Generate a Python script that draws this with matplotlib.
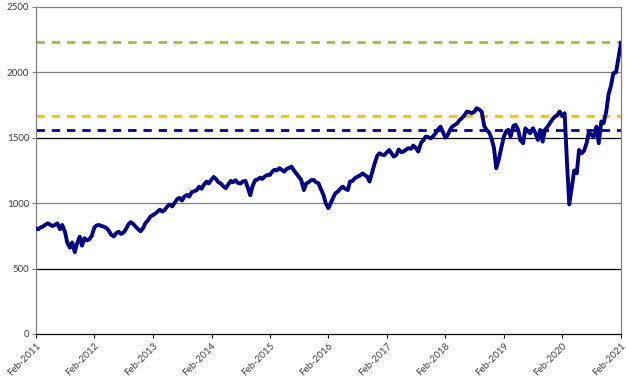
import matplotlib
matplotlib.use("Agg")
import matplotlib.pyplot as plt
import pandas as pd

# semi-monthly readings, Feb-2011 .. Feb-2021
values_2011 = [808, 800, 815, 820, 835, 846, 835, 825, 835, 846, 800, 833,
               780, 700, 660, 700, 625, 690, 744, 675, 732, 715, 725, 750]
values_2012 = [815, 830, 833, 825, 820, 810, 790, 760, 745, 770, 782, 765,
               775, 800, 840, 855, 840, 820, 800, 785, 810, 846, 870, 897]
values_2013 = [910, 920, 935, 950, 935, 950, 975, 990, 975, 1000, 1030, 1040,
               1020, 1050, 1063, 1050, 1085, 1090, 1100, 1126, 1110, 1140, 1165, 1150]
values_2014 = [1180, 1200, 1185, 1160, 1150, 1130, 1115, 1140, 1170, 1160, 1175, 1155,
               1150, 1165, 1170, 1120, 1060, 1130, 1175, 1180, 1195, 1185, 1205, 1215]
values_2015 = [1216, 1240, 1255, 1250, 1267, 1255, 1241, 1260, 1270, 1279, 1250, 1228,
               1200, 1177, 1100, 1150, 1160, 1175, 1177, 1160, 1152, 1110, 1063, 1000]
values_2016 = [961, 1000, 1040, 1075, 1090, 1110, 1126, 1110, 1100, 1165, 1170, 1190,
               1203, 1210, 1228, 1215, 1203, 1165, 1240, 1300, 1360, 1381, 1370, 1368]
values_2017 = [1390, 1406, 1380, 1356, 1370, 1410, 1390, 1394, 1410, 1420, 1415, 1440,
               1420, 1394, 1460, 1480, 1509, 1505, 1496, 1510, 1534, 1560, 1585, 1547]
values_2018 = [1500, 1520, 1560, 1585, 1598, 1610, 1636, 1650, 1674, 1700, 1695, 1687,
               1700, 1725, 1715, 1700, 1590, 1560, 1540, 1496, 1420, 1267, 1340, 1420]
values_2019 = [1509, 1550, 1560, 1509, 1590, 1598, 1560, 1480, 1458, 1572, 1550, 1534,
               1572, 1540, 1483, 1560, 1470, 1560, 1585, 1611, 1640, 1660, 1674, 1700]
values_2020 = [1665, 1687, 1305, 990, 1130, 1250, 1228, 1406, 1381, 1400, 1458, 1540,
               1520, 1509, 1585, 1458, 1624, 1611, 1700, 1830, 1900, 1993, 2000, 2100, 2225]

series = (values_2011 + values_2012 + values_2013 + values_2014 + values_2015
          + values_2016 + values_2017 + values_2018 + values_2019 + values_2020)
dates = pd.date_range("2011-02-01", periods=len(series), freq="SMS")

# reference levels (dashed)
level_green = 2230
level_yellow = 1668
level_navy = 1562

tick_years = list(range(2011, 2022))
tick_labels = [f"Feb-{y}" for y in tick_years]

NAVY = "#000080"

fig = plt.figure(figsize=(6.26, 3.83), dpi=100)
ax = fig.add_axes([0.0575, 0.128, 0.9345, 0.854])

start, end = pd.Timestamp("2011-02-01"), pd.Timestamp("2021-02-01")

for lvl, col in [(500, "black"), (1000, "#808080"), (1500, "black"), (2000, "#808080")]:
    ax.axhline(lvl, color=col, lw=0.9, zorder=1)

ax.plot([start, end], [level_green] * 2, color="#9BBB59", lw=2.0, dashes=(3, 2.5), zorder=2)
ax.plot([start, end], [level_yellow] * 2, color="#F5C400", lw=2.0, dashes=(3, 2.5), zorder=2)
ax.plot([start, end], [level_navy] * 2, color=NAVY, lw=2.0, dashes=(3, 2.5), zorder=2)

ax.plot(dates, series, color=NAVY, lw=2.8, solid_joinstyle="round", zorder=3)

ax.set_xlim(start, end)
ax.set_ylim(0, 2500)
ax.set_yticks(range(0, 2501, 500))
ax.set_xticks([pd.Timestamp(f"{y}-02-01") for y in tick_years])
ax.set_xticklabels(tick_labels, rotation=45, ha="right", rotation_mode="anchor")

for s in ["left", "top", "right"]:
    ax.spines[s].set_color("#808080")
    ax.spines[s].set_linewidth(0.9)
ax.spines["bottom"].set_color("black")
ax.spines["bottom"].set_linewidth(0.9)

ax.tick_params(axis="both", labelsize=7, colors="#404040", length=3, width=0.8)
ax.tick_params(axis="y", color="#808080", pad=2)
ax.tick_params(axis="x", color="black", pad=2)
for lab in ax.get_xticklabels() + ax.get_yticklabels():
    lab.set_family("Lato")

fig.savefig("out.png", dpi=100)
